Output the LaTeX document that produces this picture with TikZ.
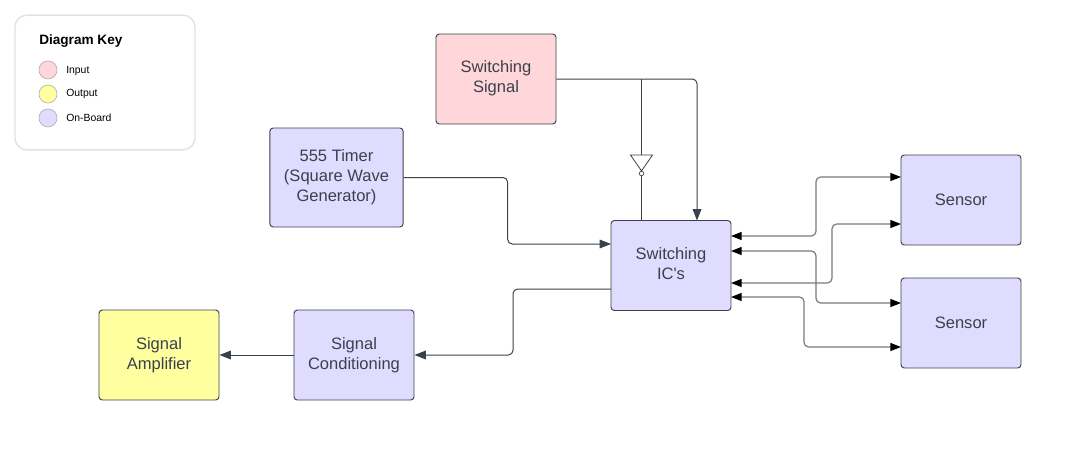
\documentclass[tikz,border=0pt]{standalone}
\usepackage{fontspec}
\setmainfont{Liberation Sans}
\usetikzlibrary{arrows.meta}
\usetikzlibrary{calc}

\definecolor{inputcol}{HTML}{FFD6D9}
\definecolor{outputcol}{HTML}{FFFF9F}
\definecolor{boardcol}{HTML}{E0DCFF}
\definecolor{linecol}{HTML}{3A414A}
\definecolor{keyline}{HTML}{DFE3E8}

\tikzset{
    block/.style={draw=linecol, line width=0.7pt, rounded corners=2.5pt, minimum width=90pt, minimum height=67.5pt,
        inner sep=0pt, align=center, text=linecol, font=\fontsize{12.4}{15}\selectfont},
    dot/.style={circle, draw=black!35, line width=0.4pt, minimum size=13.5pt, inner sep=0pt},
    keytext/.style={anchor=west, inner sep=0pt, font=\fontsize{7.8}{9}\selectfont},
    wire/.style={draw=linecol, line width=0.75pt, rounded corners=3.5pt},
    feed/.style={wire, -{Triangle[length=8.5pt,width=6.5pt]}},
    link/.style={draw=linecol!70, line width=0.9pt, rounded corners=3.5pt, {Triangle[length=8pt,width=6pt,black]}-{Triangle[length=8pt,width=6pt,black]}}
}

\begin{document}
\begin{tikzpicture}[x=0.75pt,y=-0.75pt]
    \useasboundingbox (0,0) rectangle (1091,468);

    % key
    \node[draw=keyline, line width=1.1pt, rounded corners=9pt, minimum width=135pt, minimum height=101pt, inner sep=0pt] (key) at (105,82.5) {};
    \node[anchor=west, inner sep=0pt, font=\fontsize{10.2}{12}\selectfont\bfseries] (keytitle) at (39,41) {Diagram Key};
    \node[dot, fill=inputcol] (keyinput) at (48,70) {};
    \node[dot, fill=outputcol] (keyoutput) at (48,94) {};
    \node[dot, fill=boardcol] (keyboard) at (48,118) {};
    \node[keytext] (keyinputtext) at (66,71) {Input};
    \node[keytext] (keyoutputtext) at (66,94) {Output};
    \node[keytext] (keyboardtext) at (66,118) {On-Board};

    % blocks
    \node[block, fill=inputcol, text depth=4.1pt] (signal) at (496,79) {Switching\\Signal};
    \node[block, fill=boardcol, minimum width=100pt, minimum height=74.25pt] (timer) at (336.5,177.5) {555 Timer\\(Square Wave\\Generator)};
    \node[block, fill=boardcol, text depth=3pt] (ic) at (671,265.5) {Switching\\IC\textquotesingle s};
    \node[block, fill=boardcol] (sensorA) at (961,200) {Sensor};
    \node[block, fill=boardcol] (sensorB) at (961,323) {Sensor};
    \node[block, fill=boardcol] (cond) at (354,355) {Signal\\Conditioning};
    \node[block, fill=outputcol] (amp) at (159,355) {Signal\\Amplifier};

    % inverter
    \coordinate (tap) at (641.5,79);
    \coordinate (invtop) at (641.5,155);
    \node[circle, draw=linecol, line width=0.5pt, minimum size=3.4pt, inner sep=0pt] (bubble) at (641.5,173.5) {};
    \draw[linecol, line width=0.6pt] (630.5,155) -- (652.5,155) -- (bubble.north) -- cycle;
    \draw[wire] (tap) -- (invtop);
    \draw[wire] (bubble.south) -- (bubble.south |- ic.north);

    % ports
    \coordinate (icin) at (611,244);
    \coordinate (icout) at (611,289);
    \coordinate (ictop) at (697,220.5);
    \coordinate (icA) at (731,236);
    \coordinate (icB) at (731,251);
    \coordinate (icC) at (731,283);
    \coordinate (icD) at (731,297);
    \coordinate (senA) at (901,177);
    \coordinate (senB) at (901,224);
    \coordinate (senC) at (901,303);
    \coordinate (senD) at (901,347);

    \draw[feed] (signal.east) -| (ictop);
    \draw[feed] (timer.east) -- ++(104,0) |- (icin);
    \draw[feed] (icout) -- ++(-98,0) |- (cond.east);
    \draw[feed] (cond.west) -- (amp.east);

    \draw[link] (icA) -- ++(85,0) |- (senA);
    \draw[link] (icB) -- ++(85,0) |- (senC);
    \draw[link] (icC) -- ++(101,0) |- (senB);
    \draw[link] (icD) -- ++(73,0) |- (senD);

\end{tikzpicture}
\end{document}
